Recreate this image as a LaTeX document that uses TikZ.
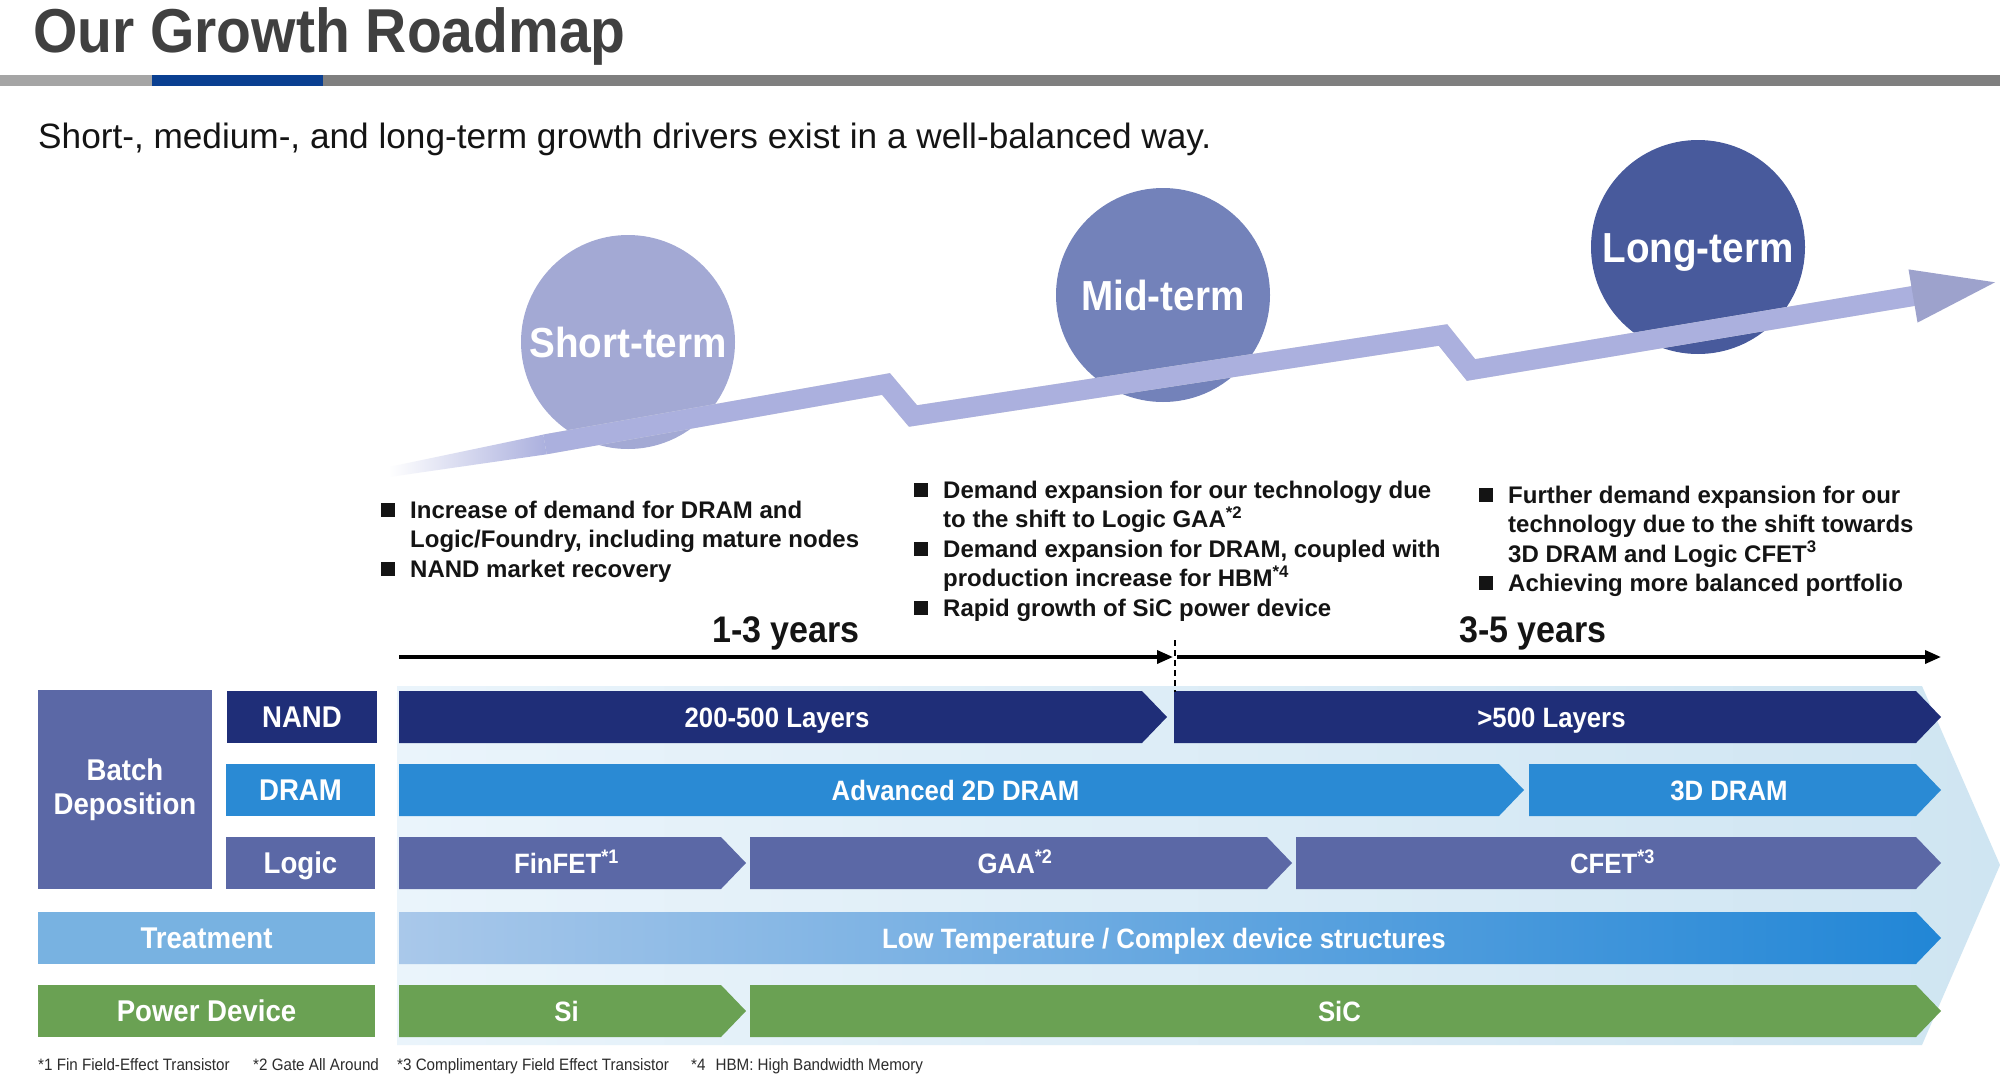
\documentclass[tikz,border=0pt]{standalone}
\usepackage{fontspec}
\setmainfont{Liberation Sans}
\newfontfamily\condfont[FakeStretch=0.92]{Liberation Sans}
\usetikzlibrary{arrows.meta}

\definecolor{titlegray}{HTML}{404040}
\definecolor{barlight}{HTML}{A5A5A5}
\definecolor{barblue}{HTML}{0A3F91}
\definecolor{bardark}{HTML}{7F7F7F}
\definecolor{bandc}{HTML}{ABB0DE}
\definecolor{shortc}{HTML}{A3A9D4}
\definecolor{midc}{HTML}{7382BA}
\definecolor{longc}{HTML}{485A9C}
\definecolor{nandc}{HTML}{1F2E78}
\definecolor{dramc}{HTML}{2A8AD4}
\definecolor{logicc}{HTML}{5B68A6}
\definecolor{powc}{HTML}{6AA153}
\definecolor{treatc}{HTML}{78B2E1}
\definecolor{treatL}{HTML}{A9C8EA}
\definecolor{treatR}{HTML}{2186D6}
\definecolor{bgL}{HTML}{EAF4FB}
\definecolor{bgR}{HTML}{CFE5F2}
\definecolor{txtc}{HTML}{141414}

% bullet square in front of a list item
\newcommand\bulsq{\rule[1.5pt]{14pt}{14pt}\hspace{15pt}}

% chevron bar: name, left x, tip x, top y, bottom y, paint options, label
\newcommand\chevbar[7]{%
  \path[#6] (#2,#4) -- (#3-25,#4) -- (#3,{(#4+#5)/2}) -- (#3-25,#5) -- (#2,#5) -- cycle;
  \node[bartext] (#1) at ({(#2+#3)/2-6},{(#4+#5)/2}) {#7};
}

\begin{document}
\begin{tikzpicture}[x=1pt,y=-1pt,
  bartext/.style={inner sep=0pt, text=white, text height=20pt, text depth=0pt,
    font=\condfont\bfseries\fontsize{28}{34}\selectfont},
  lbox/.style={inner sep=0pt, text=white, text height=21.5pt, text depth=0pt,
    font=\condfont\bfseries\fontsize{30}{36}\selectfont},
  term/.style={circle, minimum size=214pt, inner sep=0pt, text=white,
    text height=30pt, text depth=0pt,
    font=\condfont\bfseries\fontsize{42}{50}\selectfont},
  blt/.style={anchor=base west, inner sep=0pt, text=txtc,
    font=\bfseries\fontsize{24}{29}\selectfont},
  years/.style={anchor=base, inner sep=0pt, text=txtc,
    font=\condfont\bfseries\fontsize{37}{44}\selectfont},
  fn/.style={anchor=base west, inner sep=0pt, text=txtc!90,
    font=\condfont\fontsize{16.5}{20}\selectfont},
  tl/.style={line width=3.5pt, -{Triangle[length=16pt,width=13pt]}},
  band/.style={draw=bandc, line width=20pt, line join=miter, line cap=butt}
]
\useasboundingbox (0,0) rectangle (2000,1079);
\fill[white] (0,0) rectangle (2000,1079);

% ---------- heading ----------
\node[anchor=base west, inner sep=0pt, text=titlegray,
  font=\condfont\bfseries\fontsize{62}{70}\selectfont] (title) at (33,52) {Our Growth Roadmap};
\fill[barlight] (0,75) rectangle (152,86);
\fill[barblue] (152,75) rectangle (323,86);
\fill[bardark] (323,75) rectangle (2000,86);
\node[anchor=base west, inner sep=0pt, text=txtc,
  font=\fontsize{35.2}{42}\selectfont] (subtitle) at (38,148)
  {Short-, medium-, and long-term growth drivers exist in a well-balanced way.};

% ---------- lower panel background ----------
\shade[left color=bgL, right color=bgR]
  (397,686) -- (1922,686) -- (2000,865) -- (1922,1045) -- (397,1045) -- cycle;

% ---------- row labels ----------
\node[inner sep=0pt, fill=logicc, minimum width=174pt, minimum height=199pt, text=white,
  align=center, font=\condfont\bfseries\fontsize{30}{34}\selectfont] (batch) at (125,789.5)
  {Batch\\Deposition};
\node[lbox, fill=nandc, minimum width=150pt, minimum height=52pt] (lnand) at (302,717) {NAND};
\node[lbox, fill=dramc, minimum width=149pt, minimum height=52pt] (ldram) at (300.5,790) {DRAM};
\node[lbox, fill=logicc, minimum width=149pt, minimum height=52pt] (llogic) at (300.5,863) {Logic};
\node[lbox, fill=treatc, minimum width=337pt, minimum height=52pt] (ltreat) at (206.5,938) {Treatment};
\node[lbox, fill=powc, minimum width=337pt, minimum height=52pt] (lpow) at (206.5,1011) {Power Device};

% ---------- roadmap bars ----------
\chevbar{nand1}{399}{1167}{691}{743}{fill=nandc}{200-500 Layers}
\chevbar{nand2}{1174}{1941}{691}{743}{fill=nandc}{>500 Layers}
\chevbar{dram1}{399}{1524}{764}{816}{fill=dramc}{Advanced 2D DRAM}
\chevbar{dram2}{1529}{1941}{764}{816}{fill=dramc}{3D DRAM}
\chevbar{logic1}{399}{746}{837}{889}{fill=logicc}{FinFET\textsuperscript{*1}}
\chevbar{logic2}{750}{1292}{837}{889}{fill=logicc}{GAA\textsuperscript{*2}}
\chevbar{logic3}{1296}{1941}{837}{889}{fill=logicc}{CFET\textsuperscript{*3}}
\chevbar{treat}{399}{1941}{912}{964}{shade, left color=treatL, right color=treatR}{Low Temperature / Complex device structures}
\chevbar{pow1}{399}{746}{985}{1037}{fill=powc}{Si}
\chevbar{pow2}{750}{1941}{985}{1037}{fill=powc}{SiC}

% ---------- time axis ----------
\coordinate (t0) at (399,657);
\coordinate (tm) at (1173,657);
\coordinate (tn) at (1177,657);
\coordinate (t1) at (1941,657);
\coordinate (dtop) at (1175,640);
\coordinate (dbot) at (1175,692);
\draw[tl] (t0) -- (tm);
\draw[tl] (tn) -- (t1);
\draw[line width=1.5pt, dash pattern=on 6pt off 4pt] (dtop) -- (dbot);
\node[years] (y13) at (786,642) {1-3 years};
\node[years] (y35) at (1533,642) {3-5 years};

% ---------- growth drivers ----------
\node[blt] (s1) at (381,518) {\bulsq Increase of demand for DRAM and};
\node[blt] (s2) at (410,547.5) {Logic/Foundry, including mature nodes};
\node[blt] (s3) at (381,577) {\bulsq NAND market recovery};

\node[blt] (m1) at (914,498) {\bulsq Demand expansion for our technology due};
\node[blt] (m2) at (943,527.5) {to the shift to Logic GAA\textsuperscript{*2}};
\node[blt] (m3) at (914,557) {\bulsq Demand expansion for DRAM, coupled with};
\node[blt] (m4) at (943,586.5) {production increase for HBM\textsuperscript{*4}};
\node[blt] (m5) at (914,616) {\bulsq Rapid growth of SiC power device};

\node[blt] (l1) at (1479,503) {\bulsq Further demand expansion for our};
\node[blt] (l2) at (1508,532.5) {technology due to the shift towards};
\node[blt] (l3) at (1508,562) {3D DRAM and Logic CFET\textsuperscript{3}};
\node[blt] (l4) at (1479,591.5) {\bulsq Achieving more balanced portfolio};

% ---------- term circles ----------
\node[term, fill=shortc] (short) at (628,342) {Short-term};
\node[term, fill=midc] (mid) at (1163,295) {Mid-term};
\node[term, fill=longc] (long) at (1698,247) {Long-term};

% ---------- rising zig-zag arrow ----------
\coordinate (g0) at (545,444.4);
\coordinate (g1) at (886,384);
\coordinate (g2) at (913,416);
\coordinate (g3) at (1443,335);
\coordinate (g4) at (1471,370);
\coordinate (g5) at (1915,295.7);
\draw[draw=black!12, line width=20pt, line join=miter, shift={(2,5)}]
  (g0) -- (g1) -- (g2) -- (g3) -- (g4) -- (g5);
\shade[left color=white, right color=bandc]
  (388.1,467.1) -- (543.3,434.6) -- (546.7,454.3) -- (389.9,476.9) -- cycle;
\draw[band] (g0) -- (g1) -- (g2) -- (g3) -- (g4) -- (g5);
\fill[bandc!92!black!100] (1908.5,269.4) -- (1995,282.3) -- (1917.5,322.6) -- cycle;

% ---------- footnotes ----------
\node[fn] (fn1) at (38,1070) {*1 Fin Field-Effect Transistor};
\node[fn] (fn2) at (253,1070) {*2 Gate All Around};
\node[fn] (fn3) at (397,1070) {*3 Complimentary Field Effect Transistor};
\node[fn] (fn4) at (691,1070) {*4\hspace{10pt}HBM: High Bandwidth Memory};
\end{tikzpicture}
\end{document}
